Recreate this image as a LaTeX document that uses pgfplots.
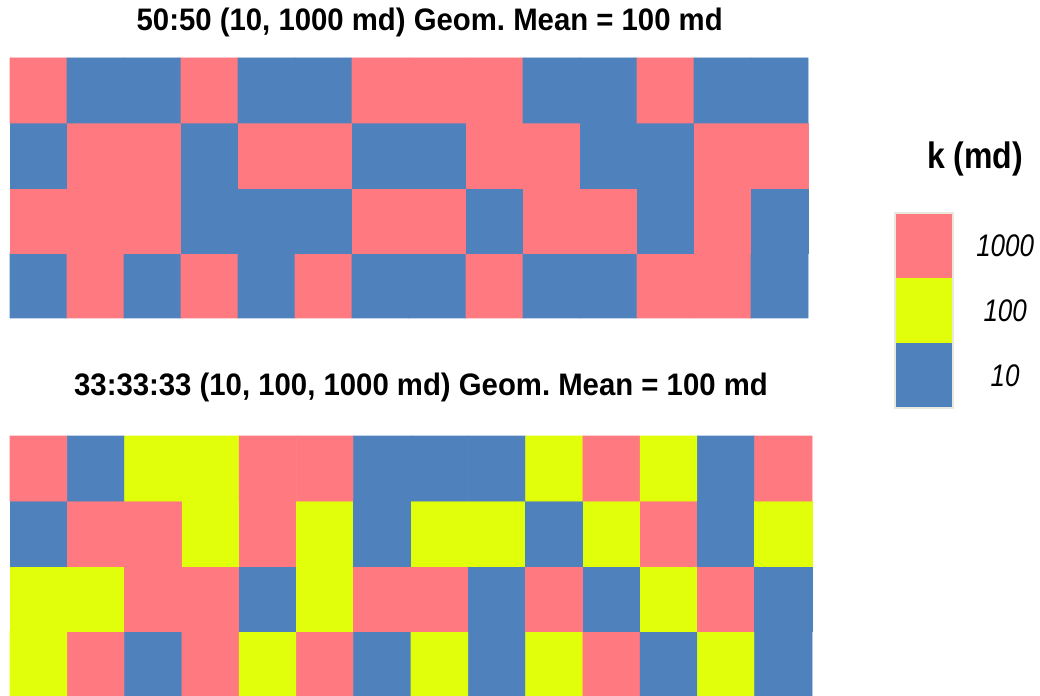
\documentclass[border=0pt]{standalone}
\usepackage{pgfplots}
\pgfplotsset{compat=1.18}
\usepackage{fontspec}
\setmainfont{Liberation Sans}
\frenchspacing
\definecolor{kpink}{RGB}{255,122,128}
\definecolor{kblue}{RGB}{79,129,189}
\definecolor{kyellow}{RGB}{225,255,10}
\definecolor{kframe}{RGB}{232,232,222}
\pgfplotsset{
  kgrid/.style={
    scale only axis, axis lines=none, clip=false,
    xmin=-0.5, xmax=13.5, ymin=-0.5, ymax=3.5,
    height=195pt, anchor=south west,
    colormap={kmap}{rgb255=(79,129,189) rgb255=(225,255,10) rgb255=(255,122,128)},
    point meta min=1, point meta max=3,
  },
}
\newcommand{\tall}[2]{\scalebox{1}[#1]{#2}}
\begin{document}
\begin{tikzpicture}
\useasboundingbox (0pt,0pt) rectangle (780pt,522pt);
% ---------- top grid: 50:50 ----------
\begin{axis}[kgrid, width=598.5pt, at={(7.5pt,283.5pt)}]
\addplot[matrix plot*, mesh/cols=14, mesh/rows=4, point meta=explicit]
 table[row sep=\\, meta=c] {
x y c\\
0 0 1\\ 1 0 3\\ 2 0 1\\ 3 0 3\\ 4 0 1\\ 5 0 3\\ 6 0 1\\ 7 0 1\\ 8 0 3\\ 9 0 1\\ 10 0 1\\ 11 0 3\\ 12 0 3\\ 13 0 1\\
0 1 3\\ 1 1 3\\ 2 1 3\\ 3 1 1\\ 4 1 1\\ 5 1 1\\ 6 1 3\\ 7 1 3\\ 8 1 1\\ 9 1 3\\ 10 1 3\\ 11 1 1\\ 12 1 3\\ 13 1 1\\
0 2 1\\ 1 2 3\\ 2 2 3\\ 3 2 1\\ 4 2 3\\ 5 2 3\\ 6 2 1\\ 7 2 1\\ 8 2 3\\ 9 2 3\\ 10 2 1\\ 11 2 1\\ 12 2 3\\ 13 2 3\\
0 3 3\\ 1 3 1\\ 2 3 1\\ 3 3 3\\ 4 3 1\\ 5 3 1\\ 6 3 3\\ 7 3 3\\ 8 3 3\\ 9 3 1\\ 10 3 1\\ 11 3 3\\ 12 3 1\\ 13 3 1\\
};
\node[anchor=base, font=\bfseries\fontsize{22}{26}\selectfont] at (rel axis cs:0.526,1.104)
  {\tall{1.06}{50:50 (10, 1000 md) Geom. Mean = 100 md}};
\end{axis}
% ---------- bottom grid: 33:33:33 ----------
\begin{axis}[kgrid, width=601.5pt, at={(7.5pt,0pt)}]
\addplot[matrix plot*, mesh/cols=14, mesh/rows=4, point meta=explicit]
 table[row sep=\\, meta=c] {
x y c\\
0 0 2\\ 1 0 3\\ 2 0 1\\ 3 0 3\\ 4 0 2\\ 5 0 3\\ 6 0 1\\ 7 0 2\\ 8 0 1\\ 9 0 2\\ 10 0 3\\ 11 0 1\\ 12 0 2\\ 13 0 1\\
0 1 2\\ 1 1 2\\ 2 1 3\\ 3 1 3\\ 4 1 1\\ 5 1 2\\ 6 1 3\\ 7 1 3\\ 8 1 1\\ 9 1 3\\ 10 1 1\\ 11 1 2\\ 12 1 3\\ 13 1 1\\
0 2 1\\ 1 2 3\\ 2 2 3\\ 3 2 2\\ 4 2 3\\ 5 2 2\\ 6 2 1\\ 7 2 2\\ 8 2 2\\ 9 2 1\\ 10 2 2\\ 11 2 3\\ 12 2 1\\ 13 2 2\\
0 3 3\\ 1 3 1\\ 2 3 2\\ 3 3 2\\ 4 3 3\\ 5 3 3\\ 6 3 1\\ 7 3 1\\ 8 3 1\\ 9 3 2\\ 10 3 3\\ 11 3 2\\ 12 3 1\\ 13 3 3\\
};
\node[anchor=base, font=\bfseries\fontsize{22}{26}\selectfont] at (rel axis cs:0.5125,1.154)
  {\tall{1.06}{33:33:33 (10, 100, 1000 md) Geom. Mean = 100 md}};
\end{axis}
% ---------- legend ----------
\begin{axis}[scale only axis, width=43.5pt, height=146.25pt, at={(671.25pt,216pt)}, anchor=south west,
  xmin=0, xmax=1, ymin=0, ymax=3, ticks=none, axis lines=box, clip=false, axis on top,
  axis line style={draw=kframe, line width=1.5pt}]
\addplot[fill=kblue, draw=none] coordinates {(0,0) (1,0) (1,1) (0,1)} --cycle;
\addplot[fill=kyellow, draw=none] coordinates {(0,1) (1,1) (1,2) (0,2)} --cycle;
\addplot[fill=kpink, draw=none] coordinates {(0,2) (1,2) (1,3) (0,3)} --cycle;
\node[anchor=center, font=\itshape\fontsize{19.5}{23}\selectfont] at (axis cs:1.9,2.5) {\tall{1.2}{1000}};
\node[anchor=center, font=\itshape\fontsize{19.5}{23}\selectfont] at (axis cs:1.9,1.5) {\tall{1.2}{100}};
\node[anchor=center, font=\itshape\fontsize{19.5}{23}\selectfont] at (axis cs:1.9,0.5) {\tall{1.2}{10}};
\node[anchor=base, font=\bfseries\fontsize{24}{28}\selectfont] at (rel axis cs:1.38,1.226) {\tall{1.15}{k (md)}};
\end{axis}
\end{tikzpicture}
\end{document}
